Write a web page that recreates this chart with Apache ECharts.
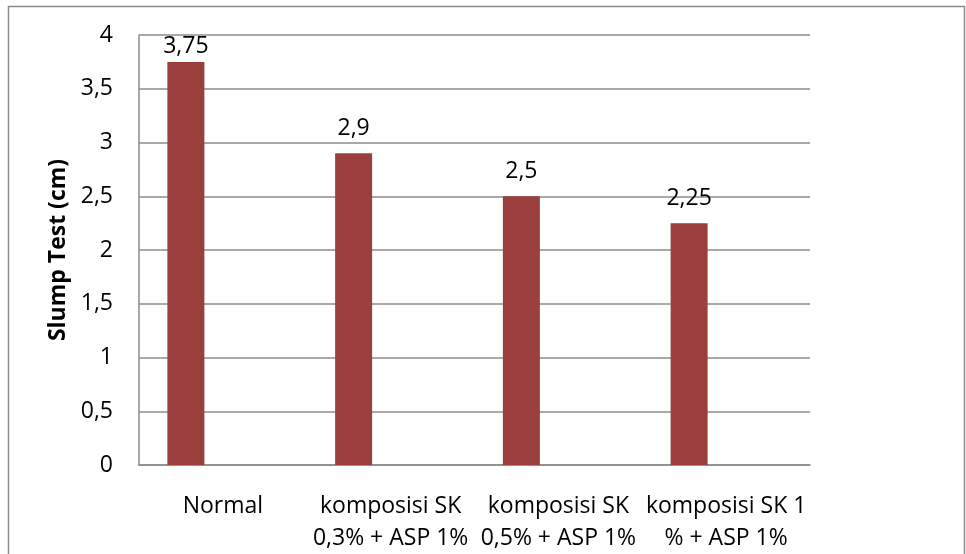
<!DOCTYPE html>
<html>
<head>
<meta charset="utf-8">
<script src="https://cdn.jsdelivr.net/npm/echarts@6/dist/echarts.min.js"></script>
<style>
  html, body { margin: 0; padding: 0; background: #fff; }
  #chart { width: 966px; height: 554px; }
</style>
</head>
<body>
<div id="chart"></div>
<script>
// Slump test results per mix composition
const categories = [
  'Normal',
  'komposisi SK\n0,3% + ASP 1%',
  'komposisi SK\n0,5% + ASP 1%',
  'komposisi SK 1\n% + ASP 1%'
];
const slumpValues = [3.75, 2.9, 2.5, 2.25];
const yTicks = [0, 0.5, 1, 1.5, 2, 2.5, 3, 3.5, 4];

const FONT = '"Open Sans", "Noto Sans", sans-serif';
const fmt = v => String(v).replace('.', ',');
const Y_MAX = yTicks[yTicks.length - 1];

// labels close to the top edge of the plot are pulled down so they stay inside it
const barData = slumpValues.map(v => ({
  value: v,
  label: { distance: v > Y_MAX - 0.4 ? 4 : 13 }
}));

const chart = echarts.init(document.getElementById('chart'), null, { renderer: 'canvas' });

chart.setOption({
  animation: false,
  backgroundColor: '#fff',
  graphic: [{
    type: 'rect',
    shape: { x: 8.5, y: 6.5, width: 956, height: 580 },
    style: { fill: 'none', stroke: '#8c8c8c', lineWidth: 1.5 },
    silent: true
  }],
  grid: { left: 139, right: 156, top: 35, bottom: 84, containLabel: false },
  xAxis: {
    type: 'category',
    data: categories,
    axisLine: { show: true, lineStyle: { color: '#8c8c8c', width: 1.5 } },
    axisTick: { show: false },
    axisLabel: {
      color: '#000', fontFamily: FONT, fontSize: 23,
      lineHeight: 32, margin: 25, interval: 0
    }
  },
  yAxis: {
    type: 'value',
    min: yTicks[0],
    max: Y_MAX,
    interval: 0.5,
    name: 'Slump Test (cm)',
    nameLocation: 'middle',
    nameGap: 68,
    nameRotate: 90,
    nameTextStyle: { color: '#000', fontFamily: FONT, fontSize: 23, fontWeight: 'bold' },
    axisLine: { show: true, lineStyle: { color: '#8c8c8c', width: 1.5 } },
    axisTick: { show: false },
    axisLabel: {
      color: '#000', fontFamily: FONT, fontSize: 23, margin: 26,
      formatter: v => fmt(v)
    },
    splitLine: { show: true, lineStyle: { color: '#8c8c8c', width: 1.5 } }
  },
  series: [
    {
      type: 'bar',
      data: barData,
      barWidth: 37,
      barGap: '0%',
      itemStyle: { color: '#9a3f3d' },
      label: {
        show: true, position: 'top',
        color: '#000', fontFamily: FONT, fontSize: 23,
        formatter: p => fmt(p.value)
      }
    },
    // empty companion series keep the slot layout of the category band
    { type: 'bar', data: [], barWidth: 37, barGap: '0%' },
    { type: 'bar', data: [], barWidth: 37, barGap: '0%' }
  ]
});
</script>
</body>
</html>
